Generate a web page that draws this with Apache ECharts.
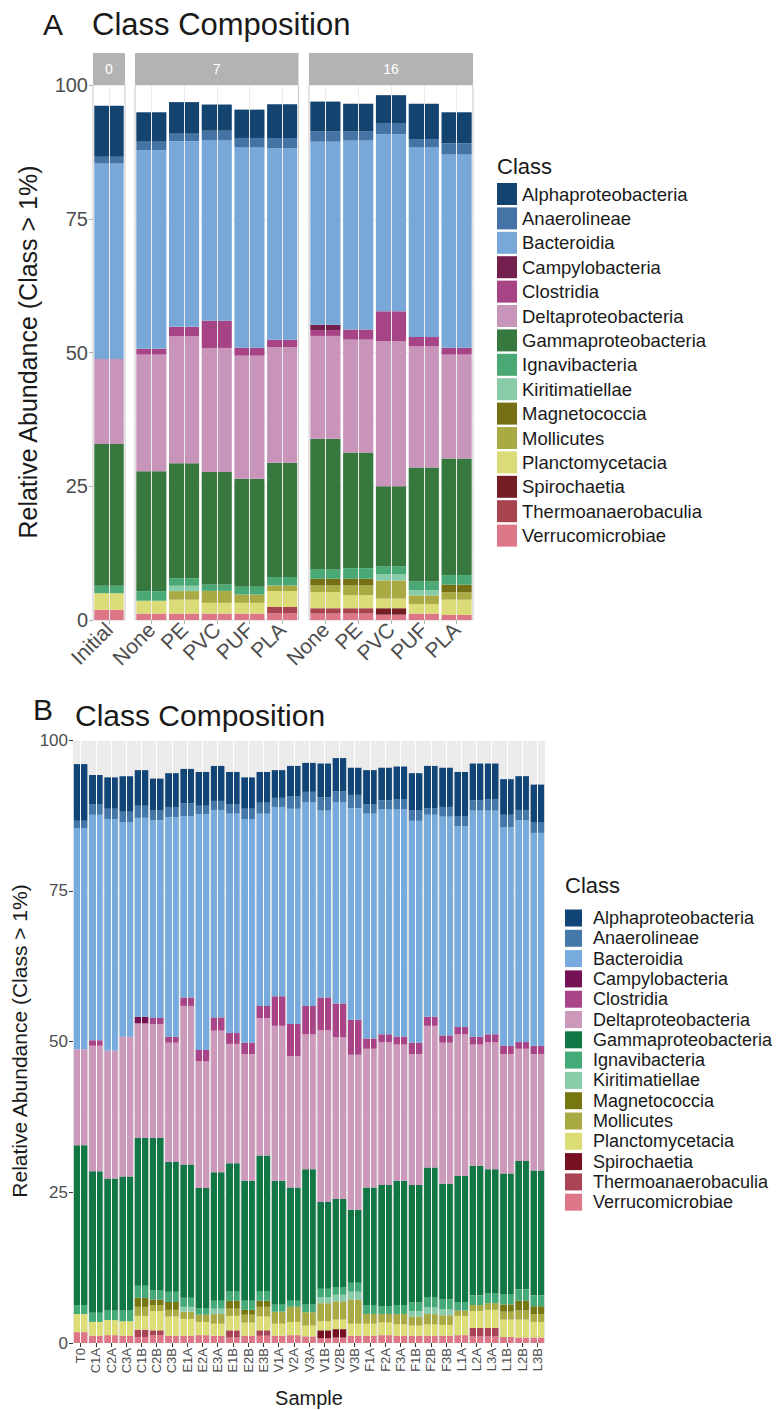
<!DOCTYPE html>
<html><head><meta charset="utf-8">
<script src="https://cdn.jsdelivr.net/npm/echarts@6/dist/echarts.min.js"></script>
<style>html,body{margin:0;padding:0;background:#fff}#c{width:777px;height:1410px}</style>
</head><body><div id="c"></div>
<script>
// ---------- categories ----------
const classes = ['Alphaproteobacteria','Anaerolineae','Bacteroidia','Campylobacteria','Clostridia','Deltaproteobacteria','Gammaproteobacteria','Ignavibacteria','Kiritimatiellae','Magnetococcia','Mollicutes','Planctomycetacia','Spirochaetia','Thermoanaerobaculia','Verrucomicrobiae'];
const facetNames = ['0','7','16'];
const catsA0 = ['Initial'];
const catsA7 = ['None','PE','PVC','PUF','PLA'];
const catsA16 = ['None','PE','PVC','PUF','PLA'];
const catsB = ['T0','C1A','C2A','C3A','C1B','C2B','C3B','E1A','E2A','E3A','E1B','E2B','E3B','V1A','V2A','V3A','V1B','V2B','V3B','F1A','F2A','F3A','F1B','F2B','F3B','L1A','L2A','L3A','L1B','L2B','L3B'];
const yTicks = [0,25,50,75,100];

// ---------- panel A values (Initial, 7: None PE PVC PUF PLA, 16: None PE PVC PUF PLA) ----------
const aAlpha  = [9.5,5.5,5.9,4.9,5.3,6.3,5.6,5.2,5.2,6.6,5.8];
const aAnaero = [1.3,1.6,1.4,1.8,1.7,1.9,1.9,1.7,2.1,1.5,2.1];
const aBact   = [36.5,37.1,34.7,33.7,37.5,35.8,34.2,35.3,33.1,35.5,36.1];
const aCampy  = [0,0,0,0,0,0,1.0,0,0,0,0];
const aClost  = [0,1.1,1.8,5.1,1.5,1.4,1.1,1.9,5.6,1.7,1.3];
const aDelta  = [15.9,21.8,23.7,23.2,23.0,21.6,19.2,21.1,27.1,22.7,19.4];
const aGamma  = [26.5,22.4,21.5,21.0,20.2,21.35,24.4,21.6,14.95,21.3,21.8];
const aIgnav  = [1.4,1.8,1.4,1.2,1.44,1.6,1.8,2.0,1.45,1.6,1.8];
const aKiri   = [0,0,1.0,0,0,0,0,0,1.2,1.0,0];
const aMagn   = [0,0,0,0,0,0,1.25,1.25,0,0,1.4];
const aMoll   = [0,0,1.6,2.25,1.56,1.0,1.25,1.8,3.4,1.6,1.4];
const aPlanc  = [3.1,2.4,2.6,2.0,2.0,3.0,3.0,2.45,1.8,1.8,2.86];
const aSpiro  = [0,0,0,0,0,0,0,0,1.2,0,0];
const aThermo = [0,0,0,0,0,1.24,1.0,1.0,0,0,0];
const aVerr   = [1.9,1.2,1.2,1.2,1.2,1.2,1.2,1.2,1.0,1.2,0.94];

// ---------- panel B values (one per sample) ----------
const bAlpha  = [9.4,4.9,5.2,5.9,5.9,5.3,5.6,5.7,5.6,5.8,5.4,5.2,5.1,4.6,5.0,4.8,5.6,5.5,4.5,5.7,5.4,5.4,6.2,7.0,6.5,7.3,6.1,5.9,5.9,5.6,6.2];
const bAnaero = [1.2,1.7,1.7,1.7,2.0,1.6,1.7,2.1,1.4,1.5,1.5,1.7,1.8,1.5,2.1,1.7,2.2,1.8,2.2,1.5,1.5,1.7,1.7,1.1,1.6,1.7,1.7,1.9,2.1,1.7,1.8];
const bBact   = [36.7,37.4,38.4,35.6,33.0,32.8,36.4,30.1,39.1,34.4,36.4,37.1,31.9,31.4,35.7,33.8,31.0,33.4,35.1,37.3,37.3,37.7,36.8,33.5,36.3,33.3,37.5,37.1,36.2,36.8,35.3];
const bCampy  = [0,0,0,0,1.1,0,0,0,0,0,0,0,0,0,0,0,0,0,0,0,0,0,0,0,0,0,0,0,0,0,0];
const bClost  = [0,0.9,0,0,0,1.0,1.0,1.4,1.9,2.2,1.8,1.9,2.0,4.9,5.3,4.7,5.4,5.6,5.8,1.7,1.3,1.3,1.9,1.5,1.2,1.2,1.3,1.3,1.4,1.1,1.4];
const bDelta  = [15.9,20.8,21.2,23.2,19.0,18.9,19.8,26.3,21.0,23.5,19.8,21.0,22.8,25.7,21.8,22.4,28.5,26.8,25.7,23.0,23.7,22.6,21.7,23.5,23.4,23.5,20.1,21.1,19.8,18.6,19.3];
const bGamma  = [26.5,23.5,21.9,22.2,24.5,25.3,21.5,22.1,19.9,21.3,21.2,19.9,22.5,20.5,18.8,22.4,14.4,14.6,12.1,19.5,20.1,20.6,19.5,21.5,19.2,20.9,21.5,20.6,20.0,21.3,20.7];
const bIgnav  = [1.5,1.5,1.6,1.8,2.0,1.5,1.7,1.5,1.1,1.3,1.6,1.5,1.6,1.2,1.0,1.3,1.4,1.3,1.5,1.5,1.3,1.5,1.4,1.7,1.6,1.4,1.6,1.6,1.7,1.9,1.8];
const bKiri   = [0,0,0,0,0,0,0,0.8,0,0.9,0,0,0,0,0,0,1.0,1.1,1.3,0,0,0,0.9,1.1,1.0,0,0,0,0,0,0];
const bMagn   = [0,0,0,0,1.5,0.9,1.3,0,0,0,1.3,0.8,1.0,0,0,0,0,0,0,0,0,0,0,0,0,0,0,0,1.2,1.6,1.3];
const bMoll   = [0,0,0,0,1.5,1.0,1.1,1.2,1.2,1.6,1.2,1.3,1.6,2.0,2.5,2.2,3.0,3.0,4.0,1.6,1.4,1.7,1.5,1.7,1.6,0.9,1.0,1.1,1.3,1.5,1.3];
const bPlanc  = [3.0,2.3,2.5,2.4,2.3,3.2,3.2,2.8,2.2,2.0,2.4,2.2,2.3,2.0,2.2,1.8,1.5,1.6,2.0,2.0,2.1,1.9,1.7,1.9,1.8,3.2,2.8,3.0,2.9,3.0,2.6];
const bSpiro  = [0,0,0,0,0,0,0,0,0,0,0,0,0,0,0,0,1.3,1.4,0,0,0,0,0,0,0,0,0,0,0,0,0];
const bThermo = [0,0,0,0,1.2,0.8,0,0,0,0,1.2,0,0.9,0,0,0,0,0,0,0,0,0,0,0,0,0,1.4,1.4,0,0,0];
const bVerr   = [1.8,1.2,1.3,1.2,1.0,1.3,1.2,1.2,1.3,1.2,0.9,1.2,1.2,1.2,1.3,1.1,0.8,0.9,1.2,1.2,1.3,1.2,1.2,1.2,1.2,1.3,1.1,1.1,1.0,0.9,0.9];

// ---------- colours ----------
const colorsB = ['#114477','#4477AA','#77AADD','#771155','#AA4488','#CC99BB','#117744','#44AA77','#88CCAA','#777711','#AAAA44','#DDDD77','#771122','#AA4455','#DD7788'];
const colorsA = ['#13436F','#4474A6','#77A8D8','#74204E','#A64485','#C894BA','#37783F','#4AA874','#88CCAA','#767014','#AAAA44','#DBDB77','#721E22','#A8444F','#DD7686'];

const aVals = [aAlpha,aAnaero,aBact,aCampy,aClost,aDelta,aGamma,aIgnav,aKiri,aMagn,aMoll,aPlanc,aSpiro,aThermo,aVerr];
const bVals = [bAlpha,bAnaero,bBact,bCampy,bClost,bDelta,bGamma,bIgnav,bKiri,bMagn,bMoll,bPlanc,bSpiro,bThermo,bVerr];

const FONT = 'Liberation Sans, Arial, sans-serif';
const facetCats = [catsA0, catsA7, catsA16];
const facetStart = [0, 1, 6];
const gridsA = [
  {left: 93, top: 85, width: 32, height: 535},
  {left: 135, top: 85, width: 163.5, height: 535},
  {left: 309, top: 85, width: 164, height: 535}
];
const gridB = {left: 73, top: 740, width: 472, height: 603};

const grid = [], xAxis = [], yAxis = [], series = [];
gridsA.forEach((g, i) => {
  grid.push(Object.assign({show: true, backgroundColor: '#FFFFFF', borderColor: '#C8C8C8', borderWidth: 1}, g));
  xAxis.push({
    type: 'category', gridIndex: i, data: facetCats[i],
    axisLine: {show: false},
    axisTick: {show: true, alignWithLabel: true, length: 4, lineStyle: {color: '#B3B3B3'}},
    axisLabel: {rotate: 45, fontSize: 21, color: '#4D4D4D', fontFamily: FONT, margin: 6, interval: 0},
    splitLine: {show: false}
  });
  yAxis.push({
    type: 'value', gridIndex: i, min: 0, max: 100, interval: 25,
    axisLine: {show: false},
    axisTick: {show: i === 0, length: 4, lineStyle: {color: '#B3B3B3'}},
    axisLabel: {show: i === 0, fontSize: 20, color: '#4D4D4D', fontFamily: FONT, margin: 5},
    splitLine: {show: true, lineStyle: {color: '#EBEBEB', width: 1}},
    minorTick: {show: false, splitNumber: 2},
    minorSplitLine: {show: true, lineStyle: {color: '#F4F4F4', width: 0.6}}
  });
  // vertical grid lines at category centres
  series.push({
    type: 'line', xAxisIndex: i, yAxisIndex: i, data: [], z: 1, silent: true,
    markLine: {silent: true, symbol: ['none','none'], label: {show: false},
      lineStyle: {color: '#EBEBEB', width: 1, type: 'solid'},
      data: facetCats[i].map(c => ({xAxis: c}))}
  });
  for (let k = classes.length - 1; k >= 0; k--) {
    series.push({
      type: 'bar', name: classes[k], stack: 'A' + i, xAxisIndex: i, yAxisIndex: i,
      barCategoryGap: '8%', z: 2,
      itemStyle: {color: colorsA[k]},
      data: aVals[k].slice(facetStart[i], facetStart[i] + facetCats[i].length)
    });
  }
});

// panel B
grid.push(Object.assign({show: true, backgroundColor: '#EBEBEB', borderWidth: 0}, gridB));
xAxis.push({
  type: 'category', gridIndex: 3, data: catsB,
  axisLine: {show: false},
  axisTick: {show: true, alignWithLabel: true, length: 4, lineStyle: {color: '#333333'}},
  axisLabel: {rotate: 90, fontSize: 13, color: '#4D4D4D', fontFamily: FONT, margin: 5, interval: 0},
  splitLine: {show: false}
});
yAxis.push({
  type: 'value', gridIndex: 3, min: 0, max: 100, interval: 25,
  axisLine: {show: false},
  axisTick: {show: true, length: 4, lineStyle: {color: '#333333'}},
  axisLabel: {fontSize: 17, color: '#4D4D4D', fontFamily: FONT, margin: 5},
  splitLine: {show: true, lineStyle: {color: '#FFFFFF', width: 1.1}},
  minorTick: {show: false, splitNumber: 2},
  minorSplitLine: {show: true, lineStyle: {color: '#FFFFFF', width: 0.5}}
});
series.push({
  type: 'line', xAxisIndex: 3, yAxisIndex: 3, data: [], z: 1, silent: true,
  markLine: {silent: true, symbol: ['none','none'], label: {show: false},
    lineStyle: {color: '#FFFFFF', width: 1, type: 'solid'},
    data: catsB.map(c => ({xAxis: c}))}
});
for (let k = classes.length - 1; k >= 0; k--) {
  series.push({
    type: 'bar', name: classes[k], stack: 'B', xAxisIndex: 3, yAxisIndex: 3,
    barCategoryGap: '11%', z: 2,
    itemStyle: {color: colorsB[k]},
    data: bVals[k]
  });
}

const titleStyle = (fs) => ({fontSize: fs, fontWeight: 'normal', color: '#1A1A1A', fontFamily: FONT});
const option = {
  animation: false,
  title: [
    {text: 'A', left: 43, top: 9, padding: 0, textStyle: titleStyle(30)},
    {text: 'Class Composition', left: 92, top: 9, padding: 0, textStyle: titleStyle(31)},
    {text: 'B', left: 33, top: 694, padding: 0, textStyle: titleStyle(30)},
    {text: 'Class Composition', left: 75, top: 700, padding: 0, textStyle: titleStyle(30)},
    {text: 'Class', left: 497, top: 155, padding: 0, textStyle: titleStyle(22)},
    {text: 'Class', left: 565, top: 874, padding: 0, textStyle: titleStyle(22)}
  ],
  legend: [
    {orient: 'vertical', left: 497, top: 183, padding: 0, icon: 'rect',
     itemWidth: 20, itemHeight: 22, itemGap: 2.4, selectedMode: false,
     textStyle: {fontSize: 18.5, color: '#1A1A1A', fontFamily: FONT, lineHeight: 22},
     data: classes.map((c, k) => ({name: c, itemStyle: {color: colorsA[k]}}))},
    {orient: 'vertical', left: 565, top: 909, padding: 0, icon: 'rect',
     itemWidth: 17, itemHeight: 17, itemGap: 2.3, selectedMode: false,
     textStyle: {fontSize: 18, color: '#1A1A1A', fontFamily: FONT, lineHeight: 17, padding: [0,0,0,6]},
     data: classes.map((c, k) => ({name: c, itemStyle: {color: colorsB[k]}}))}
  ],
  grid, xAxis, yAxis, series,
  graphic: [
    ...gridsA.map((g, i) => ({type: 'group', children: [
      {type: 'rect', shape: {x: g.left, y: 53, width: g.width, height: 32}, style: {fill: '#B3B3B3'}},
      {type: 'text', x: g.left + g.width / 2, y: 69, style: {text: facetNames[i], fill: '#FFFFFF', fontSize: 14, fontFamily: FONT, textAlign: 'center', textVerticalAlign: 'middle'}}
    ]})),
    {type: 'text', x: 28, y: 352, rotation: Math.PI / 2,
     style: {text: 'Relative Abundance (Class > 1%)', fill: '#1A1A1A', fontSize: 25, fontFamily: FONT, textAlign: 'center', textVerticalAlign: 'middle'}},
    {type: 'text', x: 19, y: 1041, rotation: Math.PI / 2,
     style: {text: 'Relative Abundance (Class > 1%)', fill: '#1A1A1A', fontSize: 21, fontFamily: FONT, textAlign: 'center', textVerticalAlign: 'middle'}},
    {type: 'text', x: 309, y: 1398,
     style: {text: 'Sample', fill: '#1A1A1A', fontSize: 20, fontFamily: FONT, textAlign: 'center', textVerticalAlign: 'middle'}}
  ]
};
const chart = echarts.init(document.getElementById('c'), null, {renderer: 'svg'});
chart.setOption(option);
</script></body></html>
